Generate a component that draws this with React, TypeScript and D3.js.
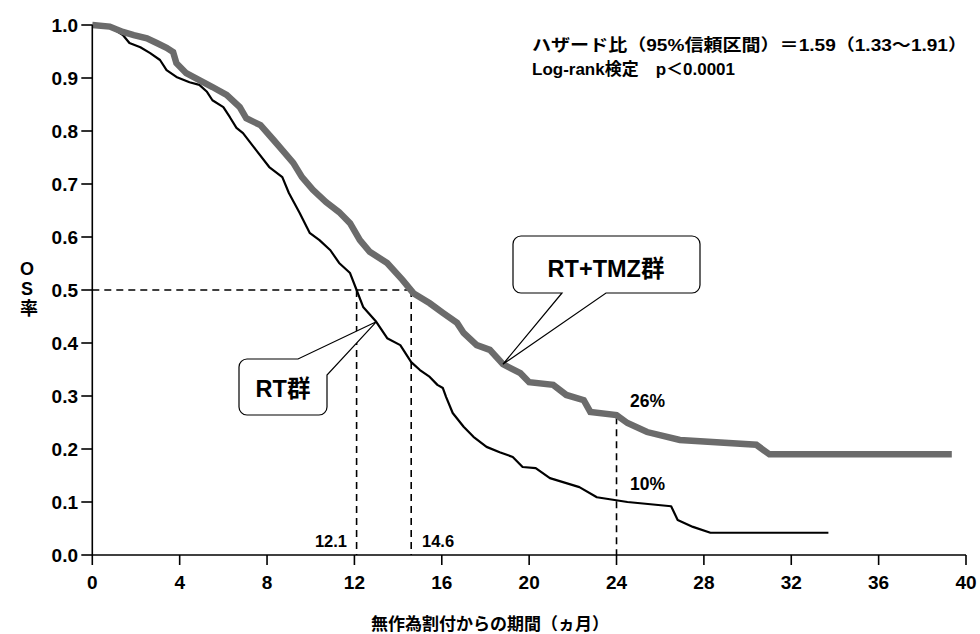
import React from "react";
import * as d3 from "d3";

// RT+TMZ group (gray thick curve): time (months) / OS rate
const tmzTimes = [0, 0.8, 1.4, 1.9, 2.5, 2.95, 3.4, 3.7, 3.85, 4.3, 4.9, 5.5, 6.15, 6.75, 7.05, 7.7, 8.3, 8.7, 9.2, 9.6, 10.1, 10.7, 11.3, 11.8, 12.25, 12.7, 13.5, 14.2, 14.7, 15.45, 16.05, 16.7, 17.0, 17.6, 18.2, 18.8, 19.6, 20.0, 21.1, 21.7, 22.5, 22.8, 24.0, 24.5, 25.4, 26.9, 30.4, 31.0, 39.35];
const tmzRates = [1.0, 0.997, 0.987, 0.981, 0.975, 0.966, 0.957, 0.949, 0.928, 0.909, 0.896, 0.883, 0.868, 0.845, 0.824, 0.811, 0.783, 0.764, 0.74, 0.713, 0.689, 0.666, 0.647, 0.626, 0.594, 0.572, 0.551, 0.519, 0.494, 0.475, 0.457, 0.438, 0.419, 0.396, 0.387, 0.36, 0.343, 0.326, 0.321, 0.302, 0.292, 0.27, 0.264, 0.249, 0.232, 0.217, 0.208, 0.19, 0.19];

// RT group (black thin curve)
const rtTimes = [0, 0.8, 1.4, 1.7, 2.2, 2.65, 3.1, 3.4, 3.85, 4.45, 4.9, 5.25, 5.5, 6.0, 6.3, 6.6, 6.9, 7.5, 8.1, 8.7, 9.0, 9.5, 9.95, 10.4, 10.9, 11.3, 11.8, 12.1, 12.4, 13.0, 13.5, 14.1, 14.6, 15.0, 15.45, 15.8, 16.05, 16.2, 16.5, 17.0, 17.45, 18.05, 18.65, 19.25, 19.7, 20.3, 20.95, 22.3, 23.1, 24.5, 26.5, 26.8, 27.5, 28.3, 33.7];
const rtRates = [1.0, 0.997, 0.981, 0.966, 0.958, 0.947, 0.934, 0.915, 0.902, 0.892, 0.887, 0.874, 0.858, 0.845, 0.826, 0.806, 0.796, 0.764, 0.732, 0.713, 0.683, 0.645, 0.608, 0.594, 0.575, 0.551, 0.532, 0.5, 0.468, 0.44, 0.409, 0.396, 0.364, 0.349, 0.336, 0.321, 0.315, 0.298, 0.268, 0.242, 0.223, 0.204, 0.194, 0.185, 0.166, 0.164, 0.145, 0.128, 0.109, 0.1, 0.092, 0.066, 0.053, 0.042, 0.042];

const xTicks = [0, 4, 8, 12, 16, 20, 24, 28, 32, 36, 40];
const yTicks = [0, 0.1, 0.2, 0.3, 0.4, 0.5, 0.6, 0.7, 0.8, 0.9, 1.0];

const medianRT = 12.1;
const medianTMZ = 14.6;
const twoYear = 24;
const twoYearTMZ = 0.26;
const twoYearRT = 0.1;

const FONT = "'Liberation Sans', Arial, 'Noto Sans CJK JP', sans-serif";

export default function App() {
  const x = d3.scaleLinear().domain([0, 40]).range([92.3, 966]);
  const y = d3.scaleLinear().domain([0, 1]).range([555, 25]);

  const line = d3
    .line<[number, number]>()
    .x((d) => x(d[0]))
    .y((d) => y(d[1]))
    .curve(d3.curveLinear);

  const tmzData: [number, number][] = tmzTimes.map((t, i) => [t, tmzRates[i]]);
  const rtData: [number, number][] = rtTimes.map((t, i) => [t, rtRates[i]]);

  // callout tips anchored on curves
  const rtTip = [x(13.0), y(0.44)];
  const tmzTip = [x(18.8), y(0.36)];

  const r = 8;
  const b1 = { l: 513, t: 236, r: 700, b: 293 };
  const p1 = d3.path();
  p1.moveTo(b1.l + r, b1.t);
  p1.lineTo(b1.r - r, b1.t);
  p1.arcTo(b1.r, b1.t, b1.r, b1.t + r, r);
  p1.lineTo(b1.r, b1.b - r);
  p1.arcTo(b1.r, b1.b, b1.r - r, b1.b, r);
  p1.lineTo(606, b1.b);
  p1.lineTo(tmzTip[0], tmzTip[1]);
  p1.lineTo(562, b1.b);
  p1.lineTo(b1.l + r, b1.b);
  p1.arcTo(b1.l, b1.b, b1.l, b1.b - r, r);
  p1.lineTo(b1.l, b1.t + r);
  p1.arcTo(b1.l, b1.t, b1.l + r, b1.t, r);
  p1.closePath();

  const b2 = { l: 239, t: 359, r: 327, b: 415 };
  const p2 = d3.path();
  p2.moveTo(b2.l + r, b2.t);
  p2.lineTo(298, b2.t);
  p2.lineTo(rtTip[0], rtTip[1]);
  p2.lineTo(b2.r, 375);
  p2.lineTo(b2.r, b2.b - r);
  p2.arcTo(b2.r, b2.b, b2.r - r, b2.b, r);
  p2.lineTo(b2.l + r, b2.b);
  p2.arcTo(b2.l, b2.b, b2.l, b2.b - r, r);
  p2.lineTo(b2.l, b2.t + r);
  p2.arcTo(b2.l, b2.t, b2.l + r, b2.t, r);
  p2.closePath();

  const dash = "7,5";

  return (
    <svg
      width={980}
      height={634}
      style={{ position: "absolute", left: 0, top: 0, background: "#fff" }}
      fontFamily={FONT}
      fontWeight="bold"
    >
      <rect x={0} y={0} width={980} height={634} fill="#fff" />

      {/* dashed reference lines */}
      <g stroke="#000" strokeWidth={1.6} strokeDasharray={dash} fill="none">
        <line x1={x(0)} x2={x(medianTMZ)} y1={y(0.5)} y2={y(0.5)} />
        <line x1={x(medianRT)} x2={x(medianRT)} y1={y(0.5)} y2={y(0)} />
        <line x1={x(medianTMZ)} x2={x(medianTMZ)} y1={y(0.5)} y2={y(0)} />
        <line x1={x(twoYear)} x2={x(twoYear)} y1={y(twoYearTMZ)} y2={y(0)} />
      </g>

      {/* curves */}
      <path d={line(rtData) || ""} fill="none" stroke="#000" strokeWidth={2.2} strokeLinejoin="round" />
      <path d={line(tmzData) || ""} fill="none" stroke="#6b6b6b" strokeWidth={6.5} strokeLinejoin="miter" />

      {/* axes */}
      <g stroke="#000" strokeWidth={1.6}>
        <line x1={x(0)} x2={x(0)} y1={y(0)} y2={y(1)} />
        <line x1={x(0)} x2={x(40)} y1={y(0)} y2={y(0)} />
        {yTicks.map((t) => (
          <line key={"yt" + t} x1={x(0) - 11} x2={x(0)} y1={y(t)} y2={y(t)} />
        ))}
        {xTicks.map((t) => (
          <line key={"xt" + t} x1={x(t)} x2={x(t)} y1={y(0)} y2={y(0) + 10} />
        ))}
      </g>
      <g fontSize={19} fill="#000">
        {yTicks.map((t) => (
          <text key={"yl" + t} x={78} y={y(t) + 7} textAnchor="end">
            {t.toFixed(1)}
          </text>
        ))}
        {xTicks.map((t) => (
          <text key={"xl" + t} x={x(t)} y={589} textAnchor="middle">
            {t}
          </text>
        ))}
      </g>

      {/* axis titles */}
      <text x={490} y={630} textAnchor="middle" fontSize={17}>
        無作為割付からの期間（ヵ月）
      </text>
      <text
        x={27}
        y={259}
        fontSize={18}
        style={{ writingMode: "vertical-rl", textOrientation: "upright" } as React.CSSProperties}
      >
        OS率
      </text>

      {/* median / 2-year labels */}
      <g fontSize={16.5}>
        <text x={347} y={547} textAnchor="end">{String(medianRT)}</text>
        <text x={422} y={547}>{String(medianTMZ)}</text>
        <text x={630} y={407} fontSize={17.5}>{Math.round(twoYearTMZ * 100) + "%"}</text>
        <text x={630} y={490} fontSize={17.5}>{Math.round(twoYearRT * 100) + "%"}</text>
      </g>

      {/* stats annotation */}
      <g fontSize={16.5}>
        <text x={532} y={51} textLength={435} lengthAdjust="spacingAndGlyphs">
          ハザード比（95%信頼区間）＝1.59（1.33〜1.91）
        </text>
        <text x={532} y={75} textLength={203} lengthAdjust="spacingAndGlyphs">
          Log-rank検定　p＜0.0001
        </text>
      </g>

      {/* callouts */}
      <path d={p1.toString()} fill="#fff" stroke="#000" strokeWidth={1.2} />
      <text x={606} y={277} textAnchor="middle" fontSize={23.5}>RT+TMZ群</text>
      <path d={p2.toString()} fill="#fff" stroke="#000" strokeWidth={1.2} />
      <text x={283} y={397} textAnchor="middle" fontSize={23.5}>RT群</text>
    </svg>
  );
}
